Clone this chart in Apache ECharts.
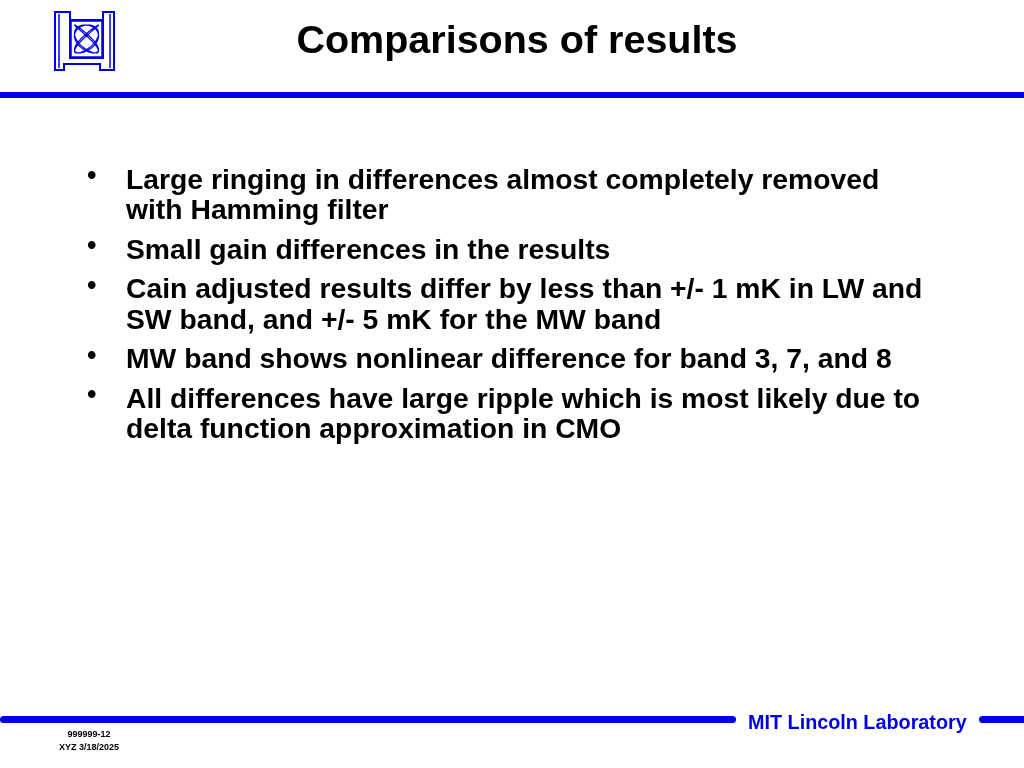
<!DOCTYPE html>
<html><head><meta charset="utf-8">
<script src="https://cdn.jsdelivr.net/npm/echarts@6/dist/echarts.min.js"></script>
<style>html,body{margin:0;padding:0;background:#fff}#c{width:1024px;height:768px}</style>
</head><body><div id="c"></div>
<script>
const title = "Comparisons of results";
const bulletLines = [
  ["Large ringing in differences almost completely removed", "with Hamming filter"],
  ["Small gain differences in the results"],
  ["Cain adjusted results differ by less than +/- 1 mK in LW and", "SW band, and +/- 5 mK for the MW band"],
  ["MW band shows nonlinear difference for band 3, 7, and 8"],
  ["All differences have large ripple which is most likely due to", "delta function approximation in CMO"]
];
const footerLab = "MIT Lincoln Laboratory";
const footerId = ["999999-12", "XYZ 3/18/2025"];

const blue = '#0000e6';
const FF = 'Liberation Sans';
function T(x,y,text,size,fill,align){
  return {type:'text', x:x, y:y, style:{text:text, fontFamily:FF, fontWeight:'bold', fontSize:size, fill:fill, textAlign:align||'left', textVerticalAlign:'middle'}};
}
const g = [];
g.push(T(517,42,title,39.5,'#000','center'));
g.push({type:'rect', shape:{x:0,y:92,width:1024,height:6}, style:{fill:blue}});
let y = 181;
bulletLines.forEach(lines=>{
  g.push(T(87,y-4,'•',27,'#000'));
  lines.forEach((l,i)=>{
    g.push(T(126,y,l,28.3,'#000'));
    y += (i<lines.length-1)?30.5:39.5;
  });
});
g.push({type:'rect', shape:{x:0,y:716,width:736,height:7,r:3.5}, style:{fill:blue}});
g.push({type:'rect', shape:{x:979,y:716,width:60,height:7,r:3.5}, style:{fill:blue}});
g.push(T(748,724,footerLab,19.8,blue));
g.push(T(89,735,footerId[0],9,'#000','center'));
g.push(T(89,748,footerId[1],9,'#000','center'));
// logo
const ls = {stroke:blue, lineWidth:2, fill:'#fff'};
g.push({type:'polygon', shape:{points:[[55,12],[70,12],[70,58],[103,58],[103,12],[114,12],[114,70],[100,70],[100,64],[64,64],[64,70],[55,70]]}, style:ls});
g.push({type:'polyline', shape:{points:[[70,12],[70,20],[103,20]]}, style:{stroke:blue,lineWidth:2,fill:null}});
g.push({type:'polyline', shape:{points:[[59,14],[59,68]]}, style:{stroke:blue,lineWidth:1.5,fill:null}});
g.push({type:'polyline', shape:{points:[[110,14],[110,68]]}, style:{stroke:blue,lineWidth:1.5,fill:null}});
g.push({type:'rect', shape:{x:71,y:21,width:31,height:36}, style:{stroke:blue,lineWidth:1.5,fill:'#fff'}});
const pts=[];for(let t=0;t<=Math.PI*2+0.01;t+=0.02){pts.push([86.5+12*Math.sin(5*t+0.5),39+14*Math.sin(4*t)]);}
g.push({type:'polyline', shape:{points:pts}, style:{stroke:blue,lineWidth:1.2,fill:null}});
const chart = echarts.init(document.getElementById('c'));
chart.setOption({graphic:g});
</script></body></html>
